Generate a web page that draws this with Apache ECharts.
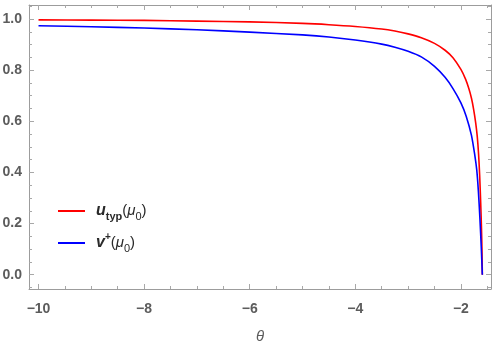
<!DOCTYPE html>
<html>
<head>
<meta charset="utf-8">
<script src="https://cdn.jsdelivr.net/npm/echarts@6/dist/echarts.min.js"></script>
<style>html,body{margin:0;padding:0;background:#fff}#c{width:498px;height:346px}</style>
</head>
<body>
<div id="c"></div>
<script>
// ---- data ----
const redTheta = [-10, -9, -8, -7, -6, -5, -4.5, -4, -3.5, -3.25, -3, -2.75, -2.5, -2.3, -2.15, -2.0, -1.91, -1.85, -1.80, -1.76, -1.72, -1.69, -1.665, -1.645, -1.625, -1.61, -1.60, -1.594];
const redValues = [0.997, 0.996, 0.995, 0.992, 0.989, 0.983, 0.978, 0.971, 0.961, 0.953, 0.942, 0.927, 0.905, 0.878, 0.849, 0.803, 0.764, 0.728, 0.690, 0.648, 0.594, 0.540, 0.470, 0.390, 0.280, 0.180, 0.085, 0.0];
const blueTheta = [-10, -9, -8, -7, -6, -5, -4.5, -4, -3.5, -3.25, -3, -2.75, -2.5, -2.3, -2.15, -2.0, -1.9, -1.8, -1.735, -1.70, -1.67, -1.64, -1.615, -1.594];
const blueValues = [0.974, 0.970, 0.965, 0.958, 0.949, 0.938, 0.930, 0.918, 0.902, 0.890, 0.874, 0.852, 0.815, 0.772, 0.728, 0.672, 0.620, 0.545, 0.465, 0.410, 0.330, 0.220, 0.110, 0.0];
const seriesNames = ['u', 'v'];
const xMajorTicks = [-10, -8, -6, -4, -2];
const xMinorTicks = [-10, -9.5, -9, -8.5, -8, -7.5, -7, -6.5, -6, -5.5, -5, -4.5, -4, -3.5, -3, -2.5, -2, -1.5];
const yMajorTicks = [0, 0.2, 0.4, 0.6, 0.8, 1.0];
const yMinorTicks = [-0.05, 0, 0.05, 0.1, 0.15, 0.2, 0.25, 0.3, 0.35, 0.4, 0.45, 0.5, 0.55, 0.6, 0.65, 0.7, 0.75, 0.8, 0.85, 0.9, 0.95, 1.0, 1.05];
const xRange = [-10.18, -1.43];
const yRange = [-0.056, 1.055];

const lineCol = '#9c9c9c';
const tickCol = '#a8a8a8';
const labCol = '#5c5c5c';
const fmtY = v => v.toFixed(1).replace('-', '\u2212');
const fmtX = v => String(Math.round(v)).replace('-', '\u2212');

function mkAxis(kind, pos, ticks, len, labels, line) {
  const range = kind === 'x' ? xRange : yRange;
  return {
    type: 'value', position: pos, min: range[0], max: range[1],
    axisLine: { show: line, onZero: false, lineStyle: { color: lineCol, width: 1 } },
    axisTick: { show: true, inside: true, length: len, customValues: ticks, lineStyle: { color: tickCol, width: 1 } },
    axisLabel: labels ? {
      show: true, customValues: ticks, color: labCol, fontWeight: 'bold', fontSize: 14,
      fontFamily: 'Liberation Sans', margin: kind === 'x' ? 13 : 7,
      formatter: kind === 'x' ? fmtX : fmtY
    } : { show: false },
    splitLine: { show: false }
  };
}

const xAxes = [
  Object.assign(mkAxis('x', 'bottom', xMajorTicks, 5, true, true), {
    name: 'θ', nameLocation: 'middle', nameGap: 40,
    nameTextStyle: { color: labCol, fontSize: 15, fontStyle: 'italic', fontFamily: 'Liberation Sans' }
  }),
  mkAxis('x', 'bottom', xMinorTicks, 3, false, false),
  mkAxis('x', 'top', xMajorTicks, 5, false, true),
  mkAxis('x', 'top', xMinorTicks, 3, false, false)
];
const yAxes = [
  mkAxis('y', 'left', yMajorTicks, 5, true, true),
  mkAxis('y', 'left', yMinorTicks, 3, false, false),
  mkAxis('y', 'right', yMajorTicks, 5, false, true),
  mkAxis('y', 'right', yMinorTicks, 3, false, false)
];

const zip = (xs, ys) => xs.map((x, i) => [x, ys[i]]);
const legendLabels = {
  u: '{pad|}{b|u}{s|typ}{n|(}{i|μ}{z|0}{n|)}',
  v: '{pad|}{b|v}{p|+}{n|(}{i|μ}{z|0}{n|)}'
};
const base = { fontFamily: 'Liberation Sans', color: '#2a2a2a', lineHeight: 22 };

const chart = echarts.init(document.getElementById('c'), null, { renderer: 'canvas' });
chart.setOption({
  animation: false,
  backgroundColor: '#fff',
  grid: { left: 29, right: 7, top: 5, bottom: 57, containLabel: false, outerBoundsMode: 'none' },
  xAxis: xAxes,
  yAxis: yAxes,
  legend: {
    orient: 'vertical', left: 53, top: 198, itemGap: 10,
    itemWidth: 27, itemHeight: 2, icon: 'rect',
    formatter: name => legendLabels[name],
    textStyle: {
      rich: {
        pad: Object.assign({}, base, { width: 6 }),
        b: Object.assign({}, base, { fontSize: 16, fontWeight: 'bold', fontStyle: 'italic' }),
        s: Object.assign({}, base, { fontSize: 11, fontWeight: 'bold', lineHeight: 10, verticalAlign: 'bottom' }),
        p: Object.assign({}, base, { fontSize: 10, fontWeight: 'bold', lineHeight: 12, verticalAlign: 'top' }),
        n: Object.assign({}, base, { fontSize: 15 }),
        i: Object.assign({}, base, { fontSize: 15, fontStyle: 'italic' }),
        z: Object.assign({}, base, { fontSize: 11, lineHeight: 10, verticalAlign: 'bottom' })
      }
    },
    data: seriesNames
  },
  series: [
    { name: 'u', type: 'line', xAxisIndex: 0, yAxisIndex: 0, data: zip(redTheta, redValues), showSymbol: false, symbol: 'none', smooth: 0.25, lineStyle: { color: '#ff0000', width: 1.6 }, itemStyle: { color: '#ff0000' } },
    { name: 'v', type: 'line', xAxisIndex: 0, yAxisIndex: 0, data: zip(blueTheta, blueValues), showSymbol: false, symbol: 'none', smooth: 0.25, lineStyle: { color: '#0000ff', width: 1.6 }, itemStyle: { color: '#0000ff' } }
  ]
});
</script>
</body>
</html>
